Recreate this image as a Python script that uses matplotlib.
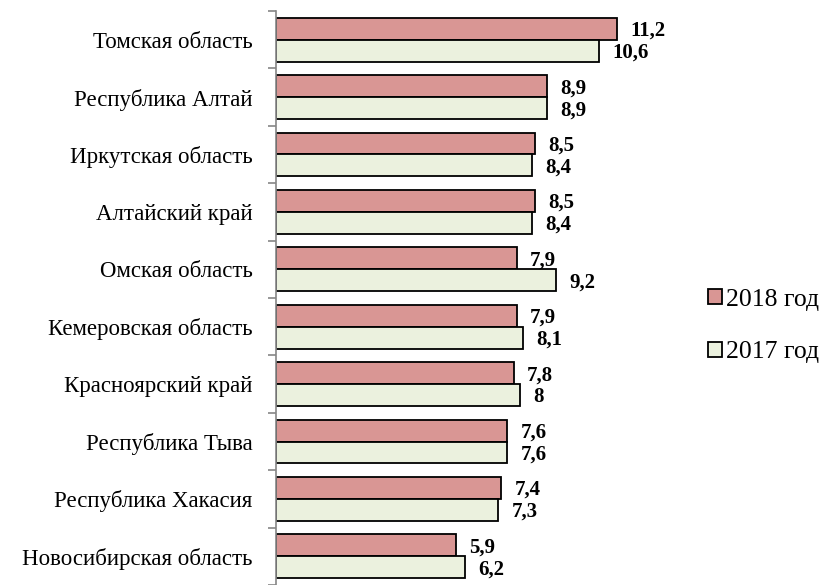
import numpy as np
import matplotlib
matplotlib.use("agg")
import matplotlib.pyplot as plt

regions = ["Томская область", "Республика Алтай", "Иркутская область",
           "Алтайский край", "Омская область", "Кемеровская область",
           "Красноярский край", "Республика Тыва", "Республика Хакасия",
           "Новосибирская область"]
y2018 = [11.2, 8.9, 8.5, 8.5, 7.9, 7.9, 7.8, 7.6, 7.4, 5.9]
y2017 = [10.6, 8.9, 8.4, 8.4, 9.2, 8.1, 8.0, 7.6, 7.3, 6.2]
labels2018 = ["11,2", "8,9", "8,5", "8,5", "7,9", "7,9", "7,8", "7,6", "7,4", "5,9"]
labels2017 = ["10,6", "8,9", "8,4", "8,4", "9,2", "8,1", "8", "7,6", "7,3", "6,2"]

plt.rcParams['font.family'] = ['Liberation Serif', 'DejaVu Serif']

W, H = 829, 585
fig = plt.figure(figsize=(W / 100, H / 100), dpi=100)
ax = fig.add_axes([276 / W, 0 / H, (690 - 276) / W, (574 - 0) / H])

n = len(regions)
pos = np.arange(n)
h = 0.383
ax.barh(pos - h / 2, y2018, height=h, color="#D99694", edgecolor="black",
        linewidth=1.3, label="2018 год")
ax.barh(pos + h / 2, y2017, height=h, color="#EBF1DE", edgecolor="black",
        linewidth=1.3, label="2017 год")

for i in range(n):
    ax.annotate(labels2018[i], (y2018[i], pos[i] - h / 2), xytext=(9.5, -1.5),
                textcoords="offset points", va="center", ha="left",
                fontsize=15, fontweight="bold")
    ax.annotate(labels2017[i], (y2017[i], pos[i] + h / 2), xytext=(9.5, -1.5),
                textcoords="offset points", va="center", ha="left",
                fontsize=15, fontweight="bold")

ax.set_xlim(0, (690 - 276) / 30.45)
ax.set_ylim(9.48, -0.5)
ax.set_yticks(pos)
ax.set_yticklabels(regions, fontsize=16.5)
ax.tick_params(axis="y", which="major", length=0, pad=17)
ax.set_yticks(np.arange(-0.5, n, 1), minor=True)
ax.tick_params(axis="y", which="minor", length=6, color="#868686", width=1.2)
ax.set_xticks([])
for s in ["top", "right", "bottom"]:
    ax.spines[s].set_visible(False)
ax.spines["left"].set_color("#868686")
ax.spines["left"].set_linewidth(1.2)

fig.legend(loc="center left", bbox_to_anchor=(695 / W, 1 - 326 / H),
           frameon=False, fontsize=18.5, handlelength=0.55, handleheight=0.55,
           handletextpad=0.15, labelspacing=1.2, borderpad=0)

fig.savefig("out.png", dpi=100)
